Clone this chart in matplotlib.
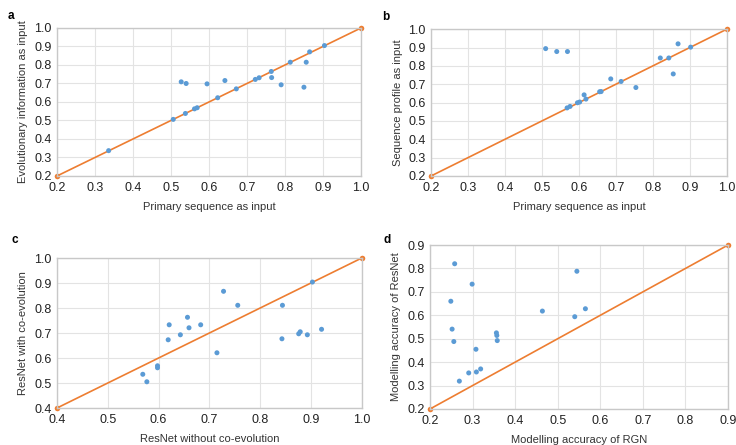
import matplotlib.pyplot as plt
import numpy as np

plt.rcParams['font.family'] = ['Liberation Sans', 'DejaVu Sans']

# panel a: primary sequence vs evolutionary information
a_x = [0.336, 0.506, 0.527, 0.540, 0.538, 0.562, 0.569, 0.595, 0.623, 0.642, 0.672,
       0.722, 0.732, 0.764, 0.765, 0.790, 0.814, 0.856, 0.850, 0.865, 0.904]
a_y = [0.337, 0.506, 0.709, 0.700, 0.538, 0.563, 0.569, 0.698, 0.623, 0.716, 0.671,
       0.722, 0.731, 0.765, 0.732, 0.693, 0.815, 0.815, 0.680, 0.871, 0.905]

# panel b: primary sequence vs sequence profile
b_x = [0.510, 0.540, 0.569, 0.568, 0.576, 0.596, 0.602, 0.614, 0.619, 0.656, 0.660,
       0.686, 0.714, 0.754, 0.820, 0.843, 0.855, 0.868, 0.902]
b_y = [0.894, 0.878, 0.878, 0.571, 0.579, 0.599, 0.603, 0.642, 0.619, 0.659, 0.660,
       0.729, 0.715, 0.682, 0.843, 0.843, 0.756, 0.920, 0.902]

# panel c: ResNet without vs with co-evolution
c_x = [0.569, 0.577, 0.598, 0.598, 0.619, 0.621, 0.643, 0.657, 0.660, 0.683, 0.715,
       0.728, 0.756, 0.844, 0.843, 0.876, 0.879, 0.893, 0.903, 0.921]
c_y = [0.535, 0.505, 0.569, 0.561, 0.673, 0.733, 0.693, 0.763, 0.721, 0.733, 0.621,
       0.867, 0.811, 0.811, 0.677, 0.697, 0.705, 0.693, 0.904, 0.715]

# panel d: RGN vs ResNet
d_x = [0.258, 0.299, 0.249, 0.252, 0.256, 0.308, 0.356, 0.357, 0.358, 0.464, 0.545,
       0.540, 0.565, 0.269, 0.291, 0.309, 0.319]
d_y = [0.820, 0.733, 0.660, 0.541, 0.488, 0.455, 0.525, 0.514, 0.492, 0.618, 0.788,
       0.594, 0.628, 0.319, 0.354, 0.358, 0.371]

panels = [
    ('a', [0.0774, 0.6045, 0.413, 0.3326], a_x, a_y, (0.2, 1.0),
     'Primary sequence as input', 'Evolutionary information as input', (0.011, 0.965)),
    ('b', [0.5856, 0.6045, 0.402, 0.330], b_x, b_y, (0.2, 1.0),
     'Primary sequence as input', 'Sequence profile as input', (0.519, 0.962)),
    ('c', [0.0774, 0.0831, 0.414, 0.337], c_x, c_y, (0.4, 1.0),
     'ResNet without co-evolution', 'ResNet with co-evolution', (0.016, 0.46)),
    ('d', [0.5842, 0.0809, 0.405, 0.3685], d_x, d_y, (0.2, 0.9),
     'Modelling accuracy of RGN', 'Modelling accuracy of ResNet', (0.521, 0.46)),
]

blue = '#5b9bd5'
orange = '#ed7d31'

fig = plt.figure(figsize=(7.36, 4.45), dpi=100)

for tag, rect, xs, ys, lim, xlabel, ylabel, tagpos in panels:
    ax = fig.add_axes(rect)
    lo, hi = lim
    ax.plot([lo, hi], [lo, hi], color=orange, lw=1.2, marker='o', ms=4,
            markeredgewidth=0, zorder=2)
    ax.scatter(xs, ys, s=13, color=blue, zorder=3, edgecolors='none')
    ax.set_xlim(lo, hi)
    ax.set_ylim(lo, hi)
    ticks = np.round(np.arange(lo, hi + 0.001, 0.1), 1)
    ax.set_xticks(ticks)
    ax.set_yticks(ticks)
    ax.set_xticklabels([f'{t:.1f}' for t in ticks])
    ax.set_yticklabels([f'{t:.1f}' for t in ticks])
    ax.grid(True, color='#e3e3e3', lw=0.8)
    ax.set_axisbelow(True)
    for sp in ax.spines.values():
        sp.set_color('#c8c8c8')
        sp.set_linewidth(1.0)
    ax.tick_params(length=0, labelsize=9, colors='#222222', pad=4)
    ax.set_xlabel(xlabel, fontsize=8, color='#333333', labelpad=6)
    ax.set_ylabel(ylabel, fontsize=8, color='#333333', labelpad=4)
    for c in ax.collections + ax.lines:
        c.set_clip_on(False)
    fig.text(tagpos[0], tagpos[1], tag, fontsize=8.5, fontweight='bold', va='center')

fig.savefig('out.png', dpi=100)
